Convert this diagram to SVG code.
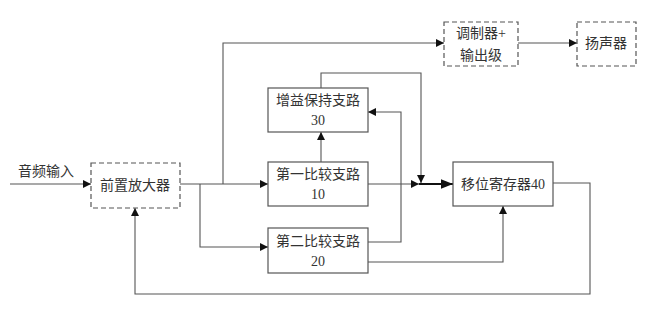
<svg xmlns="http://www.w3.org/2000/svg" width="653" height="315" viewBox="0 0 653 315">
<defs>
<style>
.box{fill:#fff;stroke:#555;stroke-width:1.2}
.dash{fill:#fff;stroke:#555;stroke-width:1.2;stroke-dasharray:5 3}
.ln{fill:none;stroke:#555;stroke-width:1.1}
.thick{fill:none;stroke:#111;stroke-width:2.2}
text{font-family:"Liberation Serif","Noto Sans CJK SC",serif;font-size:14px;fill:#333;text-anchor:middle;dominant-baseline:central}
</style>
<marker id="a" viewBox="0 0 10 10" refX="10" refY="5" markerWidth="8" markerHeight="8" markerUnits="userSpaceOnUse" orient="auto">
<path d="M0,0 L10,5 L0,10 z" fill="#111"/>
</marker>
<marker id="b" viewBox="0 0 10 10" refX="10" refY="5" markerWidth="12" markerHeight="12" markerUnits="userSpaceOnUse" orient="auto">
<path d="M0,1 L10,5 L0,9 z" fill="#111"/>
</marker>
</defs>
<g id="connectors">
<path class="ln" d="M10,184 H91" marker-end="url(#a)"/>
<path class="ln" d="M180,184 H268" marker-end="url(#a)"/>
<path class="ln" d="M223,184 V43 H444" marker-end="url(#a)"/>
<path class="ln" d="M518,43 H577" marker-end="url(#a)"/>
<path class="ln" d="M200,184 V247 H268" marker-end="url(#a)"/>
<path class="ln" d="M321,162 V132" marker-end="url(#a)"/>
<path class="ln" d="M321,88 V73 H421 V183" marker-end="url(#a)"/>
<path class="ln" d="M368,242 H401 V112 H368" marker-end="url(#a)"/>
<path class="ln" d="M368,184 H419" marker-end="url(#a)"/>
<path class="thick" d="M419,184 H453" marker-end="url(#b)"/>
<path class="ln" d="M368,262 H503 V206" marker-end="url(#a)"/>
<path class="ln" d="M553,183 H590 V294 H135 V208" marker-end="url(#a)"/>
</g>
<text x="46" y="171">音频输入</text>
<g id="preamp"><rect class="dash" x="91" y="163" width="89" height="45"/><text x="135" y="185">前置放大器</text></g>
<g id="modulator"><rect class="dash" x="444" y="22" width="74" height="44"/><text x="481" y="33">调制器+</text><text x="481" y="55">输出级</text></g>
<g id="speaker"><rect class="dash" x="577" y="22" width="59" height="44"/><text x="606" y="43">扬声器</text></g>
<g id="gain"><rect class="box" x="268" y="88" width="100" height="44"/><text x="318" y="100">增益保持支路</text><text x="318" y="120">30</text></g>
<g id="cmp1"><rect class="box" x="268" y="162" width="100" height="44"/><text x="318" y="174">第一比较支路</text><text x="318" y="194">10</text></g>
<g id="cmp2"><rect class="box" x="268" y="228" width="100" height="45"/><text x="318" y="241">第二比较支路</text><text x="318" y="261">20</text></g>
<g id="shift"><rect class="box" x="453" y="162" width="100" height="44"/><text x="503" y="184">移位寄存器40</text></g>
</svg>
